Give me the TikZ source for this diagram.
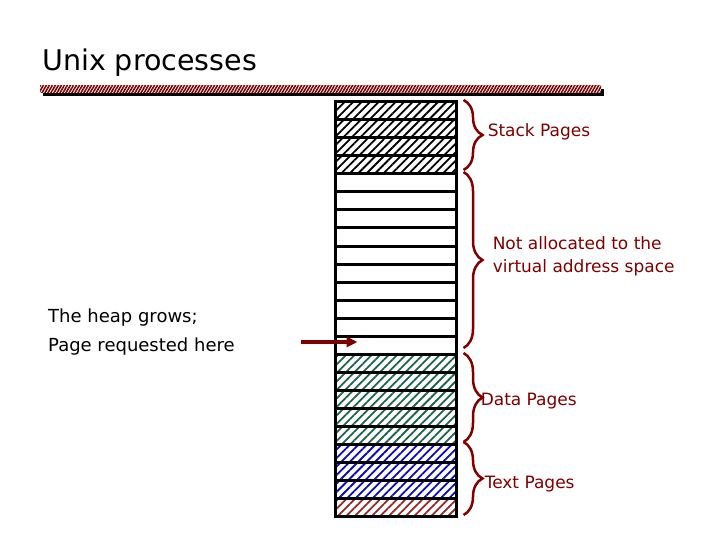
\documentclass[tikz,border=0pt]{standalone}
\usepackage{fontspec}
\setmainfont{DejaVu Sans}
\usetikzlibrary{positioning,patterns.meta,decorations.pathreplacing,arrows.meta,calc}
\definecolor{brn}{RGB}{128,0,0}
\definecolor{grn}{RGB}{30,100,75}
\definecolor{blu}{RGB}{10,10,190}
\definecolor{rdd}{RGB}{150,40,40}

\tikzset{
	page/.style={draw, line width=3pt, minimum width=121pt, minimum height=18pt, inner sep=0pt, outer sep=0pt},
	hatch/.style={pattern={Lines[angle=45,distance=6pt,line width=1.8pt]}, pattern color=#1},
	brc/.style={draw=brn, line width=2.5pt, decorate, decoration={brace, amplitude=19pt}},
	lbl/.style={text=brn, font=\fontsize{17}{23}\selectfont, anchor=west, inner sep=0pt, align=left},
}

\begin{document}
\begin{tikzpicture}[x=1pt,y=1pt,yscale=-1]
	\useasboundingbox (0,0) rectangle (720,540);

	% title and bar
	\node [anchor=base west, inner sep=0pt, font=\fontsize{28.5}{30}\selectfont] (title) at (42,71) {Unix processes};
	\fill (43,89) rectangle (604,96);
	\fill [white] (40,86) rectangle (601,93);
	\fill [pattern={Lines[angle=60,distance=2.6pt,line width=1.6pt]}, pattern color=brn] (40,86) rectangle (601,93);

	% pages, top to bottom
	\foreach \i in {1,...,4}
		\node [page, hatch=black] (r\i) at (396,{111+18*(\i-1)}) {};
	\foreach \i in {5,...,14}
		\node [page] (r\i) at (396,{111+18*(\i-1)}) {};
	\foreach \i in {15,...,19}
		\node [page, hatch=grn] (r\i) at (396,{111+18*(\i-1)}) {};
	\foreach \i in {20,...,22}
		\node [page, hatch=blu] (r\i) at (396,{111+18*(\i-1)}) {};
	\node [page, hatch=rdd] (r23) at (396,{111+18*22}) {};

	% braces
	\draw [brc] ($(r1.north east)+(7,-2)$) -- node [lbl, right=23pt, yshift=3pt] (stack) {Stack Pages} ($(r4.south east)+(7,-4)$);
	\draw [brc] ($(r5.north east)+(7,-2)$) -- node [lbl, right=28pt, yshift=4pt] (free) {Not allocated to the\\virtual address space} ($(r14.south east)+(7,-6)$);
	\draw [brc] ($(r15.north east)+(7,-1)$) -- node [lbl, right=16pt, yshift=-4pt] (data) {Data Pages} ($(r19.south east)+(7,-2)$);
	\draw [brc] ($(r20.north east)+(7,-2)$) -- node [lbl, right=20pt, yshift=-6pt] (text) {Text Pages} ($(r23.south east)+(7,-1)$);

	% heap
	\node [anchor=west, inner sep=0pt, align=left, font=\fontsize{18}{29.5}\selectfont] (heaplbl) at (48,332) {The heap grows;\\Page requested here};
	\coordinate (heap) at (301,342);
	\draw [brn, line width=3.5pt, -{Triangle[length=11pt,width=10pt]}] (heap) -- ($(r14.west)+(22,-3)$);
\end{tikzpicture}
\end{document}
